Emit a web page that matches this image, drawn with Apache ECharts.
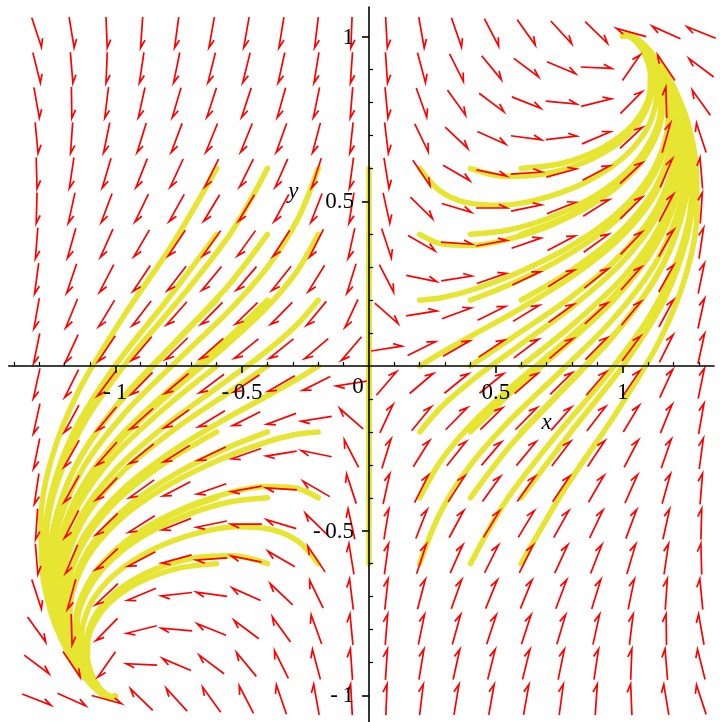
<!DOCTYPE html>
<html>
<head>
<meta charset="utf-8">
<script src="https://cdn.jsdelivr.net/npm/echarts@6/dist/echarts.min.js"></script>
<style>
html, body { margin: 0; padding: 0; background: #fff; }
#chart { width: 720px; height: 722px; }
</style>
</head>
<body>
<div id="chart"></div>
<script>
// #region Data
// direction field: arrow centres and arrow angle (degrees, in plot units)
const xCenters = [-1.31, -1.172, -1.034, -0.896, -0.758, -0.62, -0.483, -0.345, -0.207, -0.069,
    0.069, 0.207, 0.345, 0.483, 0.62, 0.758, 0.896, 1.034, 1.172, 1.31];
const yCenters = [1.013, 0.906, 0.8, 0.693, 0.586, 0.48, 0.373, 0.266, 0.16, 0.053,
    -0.053, -0.16, -0.266, -0.373, -0.48, -0.586, -0.693, -0.8, -0.906, -1.013];
const angleRows = [
    [-67, -78, -87, -95, -100, -103, -103, -102, -99, -93, -86, -77, -66, -56, -47, -40, -37, 168, 161, 163],
    [-72, -84, -93, -101, -105, -108, -108, -106, -102, -95, -85, -71, -57, -43, -30, -18, -2, 48, 131, 150],
    [-77, -89, -99, -106, -111, -113, -113, -110, -105, -96, -83, -65, -47, -30, -17, -4, 11, 38, 92, 133],
    [-83, -95, -105, -112, -116, -118, -118, -115, -109, -98, -81, -58, -36, -19, -6, 5, 18, 36, 70, 113],
    [-88, -101, -111, -117, -121, -123, -123, -120, -113, -100, -78, -49, -24, -9, 3, 12, 22, 36, 61, 96],
    [-92, -106, -116, -122, -126, -128, -128, -125, -117, -102, -74, -37, -13, 0, 9, 17, 26, 37, 56, 85],
    [-96, -110, -120, -127, -131, -133, -133, -130, -123, -106, -67, -24, -3, 8, 15, 22, 29, 39, 54, 79],
    [-100, -114, -124, -131, -135, -137, -138, -136, -129, -112, -56, -9, 7, 15, 20, 26, 32, 41, 54, 75],
    [-103, -118, -128, -135, -139, -142, -143, -142, -137, -121, -34, 7, 16, 21, 25, 29, 35, 43, 55, 74],
    [-105, -121, -131, -138, -143, -146, -148, -148, -147, -138, 7, 21, 24, 27, 30, 33, 38, 46, 57, 74],
    [-106, -123, -134, -142, -147, -150, -153, -156, -159, -173, 42, 33, 32, 32, 34, 37, 42, 49, 59, 75],
    [-106, -125, -137, -145, -151, -155, -159, -164, -173, 146, 59, 43, 38, 37, 38, 41, 45, 52, 62, 77],
    [-105, -126, -139, -148, -154, -160, -165, -173, 171, 124, 68, 51, 44, 42, 43, 45, 49, 56, 66, 80],
    [-101, -126, -141, -151, -158, -165, -172, 177, 156, 113, 74, 57, 50, 47, 47, 49, 53, 60, 70, 84],
    [-95, -124, -143, -154, -163, -171, 180, 167, 143, 106, 78, 63, 55, 52, 52, 54, 58, 64, 74, 88],
    [-84, -119, -144, -158, -168, -177, 171, 156, 131, 102, 80, 67, 60, 57, 57, 59, 63, 69, 79, 92],
    [-67, -110, -144, -162, -175, 174, 161, 144, 122, 99, 82, 71, 65, 62, 62, 64, 68, 75, 85, 97],
    [-47, -88, -142, -169, 176, 163, 150, 133, 115, 97, 84, 75, 70, 67, 67, 69, 74, 81, 91, 103],
    [-30, -49, -132, 178, 162, 150, 137, 123, 109, 95, 85, 78, 74, 72, 72, 75, 79, 87, 96, 108],
    [-17, -19, -12, 143, 140, 133, 124, 114, 103, 94, 87, 81, 78, 77, 77, 80, 85, 93, 102, 113]
];

// solution curves ending at (1,1)
const rightCurves = [
    [[0.2, 0.6], [0.276, 0.534], [0.381, 0.497], [0.519, 0.488], [0.684, 0.509], [0.854, 0.558], [0.995, 0.628], [1.085, 0.706], [1.126, 0.781], [1.134, 0.846], [1.122, 0.898], [1.102, 0.937], [1.08, 0.965], [1.059, 0.984], [1.041, 0.996], [1.027, 1.003], [1.015, 1.005], [1.0, 1.003]],
    [[0.4, 0.6], [0.533, 0.576], [0.69, 0.583], [0.849, 0.619], [0.981, 0.676], [1.066, 0.742], [1.107, 0.807], [1.116, 0.864], [1.108, 0.91], [1.09, 0.944], [1.071, 0.969], [1.053, 0.986], [1.036, 0.997], [1.022, 1.003], [1.01, 1.005], [1.0, 1.003]],
    [[0.6, 0.6], [0.758, 0.615], [0.906, 0.657], [1.017, 0.715], [1.082, 0.779], [1.108, 0.838], [1.109, 0.888], [1.097, 0.927], [1.08, 0.956], [1.061, 0.978], [1.043, 0.992], [1.028, 1.0], [1.015, 1.004], [1.0, 1.003]],
    [[0.2, 0.4], [0.285, 0.371], [0.403, 0.366], [0.556, 0.386], [0.736, 0.434], [0.913, 0.507], [1.049, 0.597], [1.127, 0.69], [1.155, 0.774], [1.152, 0.844], [1.133, 0.899], [1.108, 0.939], [1.083, 0.967], [1.06, 0.986], [1.04, 0.998], [1.024, 1.004], [1.01, 1.006], [1.0, 1.003]],
    [[0.4, 0.4], [0.55, 0.413], [0.727, 0.455], [0.902, 0.522], [1.038, 0.607], [1.118, 0.696], [1.149, 0.778], [1.148, 0.847], [1.13, 0.9], [1.106, 0.94], [1.082, 0.968], [1.06, 0.986], [1.04, 0.998], [1.024, 1.004], [1.01, 1.006], [1.0, 1.003]],
    [[0.6, 0.4], [0.782, 0.454], [0.951, 0.532], [1.072, 0.623], [1.136, 0.714], [1.155, 0.795], [1.147, 0.861], [1.127, 0.91], [1.103, 0.947], [1.08, 0.972], [1.058, 0.989], [1.04, 0.999], [1.024, 1.004], [1.01, 1.006], [1.0, 1.003]],
    [[0.2, 0.2], [0.291, 0.208], [0.417, 0.234], [0.582, 0.282], [0.773, 0.354], [0.956, 0.449], [1.089, 0.557], [1.159, 0.664], [1.179, 0.758], [1.169, 0.835], [1.145, 0.894], [1.116, 0.937], [1.088, 0.966], [1.063, 0.987], [1.041, 0.999], [1.024, 1.005], [1.01, 1.006], [1.0, 1.003]],
    [[0.4, 0.2], [0.562, 0.25], [0.754, 0.324], [0.942, 0.421], [1.083, 0.532], [1.159, 0.643], [1.183, 0.742], [1.175, 0.823], [1.152, 0.884], [1.123, 0.93], [1.093, 0.962], [1.066, 0.985], [1.043, 0.998], [1.025, 1.005], [1.01, 1.006], [1.0, 1.003]],
    [[0.6, 0.2], [0.799, 0.291], [0.985, 0.403], [1.116, 0.525], [1.181, 0.642], [1.196, 0.744], [1.182, 0.826], [1.157, 0.889], [1.127, 0.934], [1.096, 0.965], [1.068, 0.986], [1.044, 0.999], [1.026, 1.005], [1.01, 1.006], [1.0, 1.003]],
    [[0.2, 0], [0.293, 0.044], [0.423, 0.1], [0.594, 0.173], [0.793, 0.268], [0.982, 0.383], [1.117, 0.508], [1.184, 0.629], [1.2, 0.734], [1.186, 0.818], [1.162, 0.883], [1.131, 0.93], [1.099, 0.963], [1.07, 0.985], [1.045, 0.999], [1.026, 1.005], [1.01, 1.006], [1.0, 1.003]],
    [[0.4, 0], [0.566, 0.087], [0.766, 0.192], [0.964, 0.316], [1.112, 0.451], [1.19, 0.583], [1.212, 0.698], [1.2, 0.792], [1.172, 0.864], [1.142, 0.915], [1.109, 0.952], [1.078, 0.978], [1.051, 0.995], [1.03, 1.004], [1.012, 1.007], [1.0, 1.003]],
    [[0.6, 0], [0.806, 0.128], [1.004, 0.272], [1.145, 0.422], [1.214, 0.564], [1.229, 0.686], [1.212, 0.784], [1.181, 0.859], [1.149, 0.913], [1.114, 0.951], [1.081, 0.977], [1.053, 0.995], [1.031, 1.004], [1.012, 1.007], [1.0, 1.003]],
    [[0.2, -0.2], [0.291, -0.12], [0.42, -0.035], [0.592, 0.062], [0.796, 0.177], [0.992, 0.31], [1.133, 0.451], [1.203, 0.585], [1.219, 0.701], [1.203, 0.795], [1.172, 0.864], [1.142, 0.915], [1.109, 0.952], [1.078, 0.978], [1.051, 0.995], [1.03, 1.004], [1.012, 1.007], [1.0, 1.003]],
    [[0.4, -0.2], [0.564, -0.078], [0.766, 0.057], [0.972, 0.206], [1.129, 0.364], [1.213, 0.515], [1.237, 0.647], [1.225, 0.755], [1.195, 0.838], [1.16, 0.896], [1.123, 0.938], [1.089, 0.968], [1.059, 0.989], [1.035, 1.002], [1.015, 1.007], [1.0, 1.003]],
    [[0.6, -0.2], [0.805, -0.037], [1.01, 0.136], [1.162, 0.313], [1.239, 0.479], [1.258, 0.622], [1.241, 0.737], [1.208, 0.826], [1.17, 0.888], [1.131, 0.933], [1.094, 0.965], [1.062, 0.987], [1.037, 1.001], [1.016, 1.007], [1.0, 1.003]],
    [[0.2, -0.4], [0.286, -0.285], [0.41, -0.172], [0.578, -0.052], [0.782, 0.081], [0.985, 0.229], [1.136, 0.384], [1.215, 0.532], [1.235, 0.661], [1.221, 0.765], [1.19, 0.845], [1.157, 0.9], [1.121, 0.941], [1.088, 0.97], [1.058, 0.99], [1.034, 1.002], [1.015, 1.007], [1.0, 1.003]],
    [[0.4, -0.4], [0.556, -0.243], [0.754, -0.081], [0.964, 0.091], [1.132, 0.269], [1.227, 0.439], [1.258, 0.588], [1.248, 0.71], [1.217, 0.805], [1.18, 0.872], [1.14, 0.922], [1.102, 0.957], [1.068, 0.981], [1.041, 0.998], [1.018, 1.007], [1.0, 1.003]],
    [[0.6, -0.4], [0.794, -0.202], [0.999, -0.002], [1.162, 0.198], [1.252, 0.386], [1.279, 0.549], [1.266, 0.682], [1.233, 0.785], [1.193, 0.859], [1.151, 0.913], [1.11, 0.952], [1.073, 0.979], [1.044, 0.997], [1.019, 1.007], [1.0, 1.003]],
    [[0.2, -0.6], [0.278, -0.45], [0.392, -0.309], [0.55, -0.169], [0.749, -0.021], [0.958, 0.139], [1.125, 0.307], [1.218, 0.469], [1.248, 0.611], [1.238, 0.727], [1.208, 0.818], [1.17, 0.882], [1.13, 0.929], [1.094, 0.963], [1.062, 0.986], [1.037, 1.001], [1.016, 1.007], [1.0, 1.003]],
    [[0.4, -0.6], [0.541, -0.408], [0.727, -0.221], [0.936, -0.03], [1.117, 0.165], [1.228, 0.353], [1.271, 0.52], [1.268, 0.658], [1.239, 0.767], [1.2, 0.845], [1.157, 0.903], [1.115, 0.946], [1.078, 0.975], [1.047, 0.995], [1.021, 1.006], [1.0, 1.003]],
    [[0.6, -0.6], [0.775, -0.369], [0.974, -0.143], [1.146, 0.078], [1.253, 0.286], [1.293, 0.469], [1.288, 0.62], [1.257, 0.739], [1.215, 0.825], [1.17, 0.89], [1.125, 0.937], [1.085, 0.969], [1.052, 0.99], [1.025, 1.004], [1.0, 1.003]]
];

// solution curves ending at (-1,-1)
const leftCurves = [
    [[-0.2, -0.6], [-0.276, -0.534], [-0.381, -0.497], [-0.519, -0.488], [-0.684, -0.509], [-0.854, -0.558], [-0.995, -0.628], [-1.085, -0.706], [-1.126, -0.781], [-1.134, -0.846], [-1.122, -0.898], [-1.102, -0.937], [-1.08, -0.965], [-1.059, -0.984], [-1.041, -0.996], [-1.027, -1.003], [-1.015, -1.005], [-1.0, -1.003]],
    [[-0.4, -0.6], [-0.533, -0.576], [-0.69, -0.583], [-0.849, -0.619], [-0.981, -0.676], [-1.066, -0.742], [-1.107, -0.807], [-1.116, -0.864], [-1.108, -0.91], [-1.09, -0.944], [-1.071, -0.969], [-1.053, -0.986], [-1.036, -0.997], [-1.022, -1.003], [-1.01, -1.005], [-1.0, -1.003]],
    [[-0.6, -0.6], [-0.758, -0.615], [-0.906, -0.657], [-1.017, -0.715], [-1.082, -0.779], [-1.108, -0.838], [-1.109, -0.888], [-1.097, -0.927], [-1.08, -0.956], [-1.061, -0.978], [-1.043, -0.992], [-1.028, -1.0], [-1.015, -1.004], [-1.0, -1.003]],
    [[-0.2, -0.4], [-0.285, -0.371], [-0.403, -0.366], [-0.556, -0.386], [-0.736, -0.434], [-0.913, -0.507], [-1.049, -0.597], [-1.127, -0.69], [-1.155, -0.774], [-1.152, -0.844], [-1.133, -0.899], [-1.108, -0.939], [-1.083, -0.967], [-1.06, -0.986], [-1.04, -0.998], [-1.024, -1.004], [-1.01, -1.006], [-1.0, -1.003]],
    [[-0.4, -0.4], [-0.55, -0.413], [-0.727, -0.455], [-0.902, -0.522], [-1.038, -0.607], [-1.118, -0.696], [-1.149, -0.778], [-1.148, -0.847], [-1.13, -0.9], [-1.106, -0.94], [-1.082, -0.968], [-1.06, -0.986], [-1.04, -0.998], [-1.024, -1.004], [-1.01, -1.006], [-1.0, -1.003]],
    [[-0.6, -0.4], [-0.782, -0.454], [-0.951, -0.532], [-1.072, -0.623], [-1.136, -0.714], [-1.155, -0.795], [-1.147, -0.861], [-1.127, -0.91], [-1.103, -0.947], [-1.08, -0.972], [-1.058, -0.989], [-1.04, -0.999], [-1.024, -1.004], [-1.01, -1.006], [-1.0, -1.003]],
    [[-0.2, -0.2], [-0.291, -0.208], [-0.417, -0.234], [-0.582, -0.282], [-0.773, -0.354], [-0.956, -0.449], [-1.089, -0.557], [-1.159, -0.664], [-1.179, -0.758], [-1.169, -0.835], [-1.145, -0.894], [-1.116, -0.937], [-1.088, -0.966], [-1.063, -0.987], [-1.041, -0.999], [-1.024, -1.005], [-1.01, -1.006], [-1.0, -1.003]],
    [[-0.4, -0.2], [-0.562, -0.25], [-0.754, -0.324], [-0.942, -0.421], [-1.083, -0.532], [-1.159, -0.643], [-1.183, -0.742], [-1.175, -0.823], [-1.152, -0.884], [-1.123, -0.93], [-1.093, -0.962], [-1.066, -0.985], [-1.043, -0.998], [-1.025, -1.005], [-1.01, -1.006], [-1.0, -1.003]],
    [[-0.6, -0.2], [-0.799, -0.291], [-0.985, -0.403], [-1.116, -0.525], [-1.181, -0.642], [-1.196, -0.744], [-1.182, -0.826], [-1.157, -0.889], [-1.127, -0.934], [-1.096, -0.965], [-1.068, -0.986], [-1.044, -0.999], [-1.026, -1.005], [-1.01, -1.006], [-1.0, -1.003]],
    [[-0.2, 0], [-0.293, -0.044], [-0.423, -0.1], [-0.594, -0.173], [-0.793, -0.268], [-0.982, -0.383], [-1.117, -0.508], [-1.184, -0.629], [-1.2, -0.734], [-1.186, -0.818], [-1.162, -0.883], [-1.131, -0.93], [-1.099, -0.963], [-1.07, -0.985], [-1.045, -0.999], [-1.026, -1.005], [-1.01, -1.006], [-1.0, -1.003]],
    [[-0.4, 0], [-0.566, -0.087], [-0.766, -0.192], [-0.964, -0.316], [-1.112, -0.451], [-1.19, -0.583], [-1.212, -0.698], [-1.2, -0.792], [-1.172, -0.864], [-1.142, -0.915], [-1.109, -0.952], [-1.078, -0.978], [-1.051, -0.995], [-1.03, -1.004], [-1.012, -1.007], [-1.0, -1.003]],
    [[-0.6, 0], [-0.806, -0.128], [-1.004, -0.272], [-1.145, -0.422], [-1.214, -0.564], [-1.229, -0.686], [-1.212, -0.784], [-1.181, -0.859], [-1.149, -0.913], [-1.114, -0.951], [-1.081, -0.977], [-1.053, -0.995], [-1.031, -1.004], [-1.012, -1.007], [-1.0, -1.003]],
    [[-0.2, 0.2], [-0.291, 0.12], [-0.42, 0.035], [-0.592, -0.062], [-0.796, -0.177], [-0.992, -0.31], [-1.133, -0.451], [-1.203, -0.585], [-1.219, -0.701], [-1.203, -0.795], [-1.172, -0.864], [-1.142, -0.915], [-1.109, -0.952], [-1.078, -0.978], [-1.051, -0.995], [-1.03, -1.004], [-1.012, -1.007], [-1.0, -1.003]],
    [[-0.4, 0.2], [-0.564, 0.078], [-0.766, -0.057], [-0.972, -0.206], [-1.129, -0.364], [-1.213, -0.515], [-1.237, -0.647], [-1.225, -0.755], [-1.195, -0.838], [-1.16, -0.896], [-1.123, -0.938], [-1.089, -0.968], [-1.059, -0.989], [-1.035, -1.002], [-1.015, -1.007], [-1.0, -1.003]],
    [[-0.6, 0.2], [-0.805, 0.037], [-1.01, -0.136], [-1.162, -0.313], [-1.239, -0.479], [-1.258, -0.622], [-1.241, -0.737], [-1.208, -0.826], [-1.17, -0.888], [-1.131, -0.933], [-1.094, -0.965], [-1.062, -0.987], [-1.037, -1.001], [-1.016, -1.007], [-1.0, -1.003]],
    [[-0.2, 0.4], [-0.286, 0.285], [-0.41, 0.172], [-0.578, 0.052], [-0.782, -0.081], [-0.985, -0.229], [-1.136, -0.384], [-1.215, -0.532], [-1.235, -0.661], [-1.221, -0.765], [-1.19, -0.845], [-1.157, -0.9], [-1.121, -0.941], [-1.088, -0.97], [-1.058, -0.99], [-1.034, -1.002], [-1.015, -1.007], [-1.0, -1.003]],
    [[-0.4, 0.4], [-0.556, 0.243], [-0.754, 0.081], [-0.964, -0.091], [-1.132, -0.269], [-1.227, -0.439], [-1.258, -0.588], [-1.248, -0.71], [-1.217, -0.805], [-1.18, -0.872], [-1.14, -0.922], [-1.102, -0.957], [-1.068, -0.981], [-1.041, -0.998], [-1.018, -1.007], [-1.0, -1.003]],
    [[-0.6, 0.4], [-0.794, 0.202], [-0.999, 0.002], [-1.162, -0.198], [-1.252, -0.386], [-1.279, -0.549], [-1.266, -0.682], [-1.233, -0.785], [-1.193, -0.859], [-1.151, -0.913], [-1.11, -0.952], [-1.073, -0.979], [-1.044, -0.997], [-1.019, -1.007], [-1.0, -1.003]],
    [[-0.2, 0.6], [-0.278, 0.45], [-0.392, 0.309], [-0.55, 0.169], [-0.749, 0.021], [-0.958, -0.139], [-1.125, -0.307], [-1.218, -0.469], [-1.248, -0.611], [-1.238, -0.727], [-1.208, -0.818], [-1.17, -0.882], [-1.13, -0.929], [-1.094, -0.963], [-1.062, -0.986], [-1.037, -1.001], [-1.016, -1.007], [-1.0, -1.003]],
    [[-0.4, 0.6], [-0.541, 0.408], [-0.727, 0.221], [-0.936, 0.03], [-1.117, -0.165], [-1.228, -0.353], [-1.271, -0.52], [-1.268, -0.658], [-1.239, -0.767], [-1.2, -0.845], [-1.157, -0.903], [-1.115, -0.946], [-1.078, -0.975], [-1.047, -0.995], [-1.021, -1.006], [-1.0, -1.003]],
    [[-0.6, 0.6], [-0.775, 0.369], [-0.974, 0.143], [-1.146, -0.078], [-1.253, -0.286], [-1.293, -0.469], [-1.288, -0.62], [-1.257, -0.739], [-1.215, -0.825], [-1.17, -0.89], [-1.125, -0.937], [-1.085, -0.969], [-1.052, -0.99], [-1.025, -1.004], [-1.0, -1.003]]
];

// solutions starting on the y axis stay on it
const axisCurves = [
    [[0, 0.6], [0, 0.011]], [[0, 0.4], [0, 0.007]], [[0, 0.2], [0, 0.004]],
    [[0, -0.2], [0, -0.004]], [[0, -0.4], [0, -0.007]], [[0, -0.6], [0, -0.011]]
];

const xMajorTicks = [-1, -0.5, 0.5, 1];
const xMinorTicks = [-1.4, -1.3, -1.2, -1.1, -0.9, -0.8, -0.7, -0.6, -0.4, -0.3, -0.2, -0.1,
    0.1, 0.2, 0.3, 0.4, 0.6, 0.7, 0.8, 0.9, 1.1, 1.2, 1.3];
const yMajorTicks = [-1, -0.5, 0.5, 1];
const yMinorTicks = [-0.9, -0.8, -0.7, -0.6, -0.4, -0.3, -0.2, -0.1,
    0.1, 0.2, 0.3, 0.4, 0.6, 0.7, 0.8, 0.9];
// #endregion

// #region Style
const RED = "#ff0000";
const YELLOW = "#e6e632";
const ARROW_LEN = 31;
const BARB_LEN = 9;
const BARB_ANG = 25 * Math.PI / 180;
const FONT = "'Liberation Serif', 'DejaVu Serif', serif";
const LABEL_SIZE = 23;
const AXIS_STYLE = { color: "#000", width: 1.6 };
// #endregion

const chart = echarts.init(document.getElementById("chart"), null, { renderer: "canvas" });

const arrowData = [];
yCenters.forEach((y, j) => {
    xCenters.forEach((x, i) => {
        arrowData.push([x, y, angleRows[j][i]]);
    });
});

// one arrow: shaft centred on the grid point, single barb on the left of travel
function renderArrow(params, api) {
    const c = api.coord([api.value(0), api.value(1)]);
    const s = api.size([1, 1]);
    const a = api.value(2) * Math.PI / 180;
    let dx = Math.cos(a) * s[0];
    let dy = -Math.sin(a) * s[1];
    const n = Math.sqrt(dx * dx + dy * dy);
    dx /= n; dy /= n;
    const h = ARROW_LEN / 2;
    const tip = [c[0] + dx * h, c[1] + dy * h];
    const tail = [c[0] - dx * h, c[1] - dy * h];
    const bx = -dx * Math.cos(BARB_ANG) + dy * Math.sin(BARB_ANG);
    const by = -dy * Math.cos(BARB_ANG) - dx * Math.sin(BARB_ANG);
    const barb = [tip[0] + bx * BARB_LEN, tip[1] + by * BARB_LEN];
    return {
        type: "polyline",
        shape: { points: [tail, tip, barb] },
        style: { stroke: RED, lineWidth: 1.7, fill: null, lineJoin: "miter" }
    };
}

function curveSeries(pts) {
    return {
        type: "line",
        data: pts,
        showSymbol: false,
        symbol: "none",
        smooth: 0.3,
        silent: true,
        z: 2,
        lineStyle: { color: YELLOW, width: 5.5, cap: "round", join: "round" }
    };
}

const option = {
    animation: false,
    backgroundColor: "#fff",
    grid: { left: 8.7, top: 7.1, width: 705.3, height: 714.6, outerBoundsMode: "none" },
    xAxis: [
        {
            type: "value", min: -1.42, max: 1.36, z: 10,
            axisLine: { onZero: true, onZeroAxisIndex: 0, lineStyle: AXIS_STYLE },
            axisTick: { customValues: xMajorTicks, length: 7, lineStyle: AXIS_STYLE },
            axisLabel: { show: false },
            splitLine: { show: false }
        },
        {
            type: "value", min: -1.42, max: 1.36, z: 10,
            axisLine: { show: false, onZero: true, onZeroAxisIndex: 0 },
            axisTick: { customValues: xMinorTicks, length: 4, lineStyle: { color: "#000", width: 1.2 } },
            axisLabel: { show: false },
            splitLine: { show: false }
        }
    ],
    yAxis: [
        {
            type: "value", min: -1.08, max: 1.09, z: 10,
            axisLine: { onZero: true, onZeroAxisIndex: 0, lineStyle: AXIS_STYLE },
            axisTick: { customValues: yMajorTicks, length: 7, lineStyle: AXIS_STYLE },
            axisLabel: { show: false },
            splitLine: { show: false }
        },
        {
            type: "value", min: -1.08, max: 1.09, z: 10,
            axisLine: { show: false, onZero: true, onZeroAxisIndex: 0 },
            axisTick: { customValues: yMinorTicks, length: 4, lineStyle: { color: "#000", width: 1.2 } },
            axisLabel: { show: false },
            splitLine: { show: false }
        }
    ],
    series: [
        ...axisCurves.map(curveSeries),
        ...rightCurves.map(curveSeries),
        ...leftCurves.map(curveSeries),
        {
            type: "custom",
            renderItem: renderArrow,
            data: arrowData,
            encode: { x: 0, y: 1 },
            silent: true,
            clip: false,
            z: 5
        }
    ]
};

chart.setOption(option);

// #region Labels
// tick labels are placed from the axis scale
const toPx = p => chart.convertToPixel({ xAxisIndex: 0, yAxisIndex: 0 }, p);
const fmt = v => (v < 0 ? "-\u2009" + (-v) : String(v));

function textEl(p, text, opts) {
    return {
        type: "text", x: p[0], y: p[1], z: 20,
        style: {
            text: text, fill: "#000",
            align: opts.align || "center", verticalAlign: "middle",
            font: (opts.italic ? "italic " : "") + (opts.size || LABEL_SIZE) + "px " + FONT
        }
    };
}

const labels = [];
xMajorTicks.forEach(v => {
    const p = toPx([v, 0]);
    labels.push(textEl([p[0], p[1] + 27], fmt(v), {}));
});
yMajorTicks.forEach(v => {
    const p = toPx([0, v]);
    labels.push(textEl([p[0] - 15, p[1] + 1], fmt(v), { align: "right" }));
});
const o = toPx([0, 0]);
labels.push(textEl([o[0] - 11, o[1] + 21], "0", {}));
labels.push(textEl(toPx([0.7, -0.174]), "x", { italic: true, size: 23 }));
labels.push(textEl(toPx([-0.298, 0.529]), "y", { italic: true, size: 23 }));

chart.setOption({ graphic: labels });
// #endregion
</script>
</body>
</html>
